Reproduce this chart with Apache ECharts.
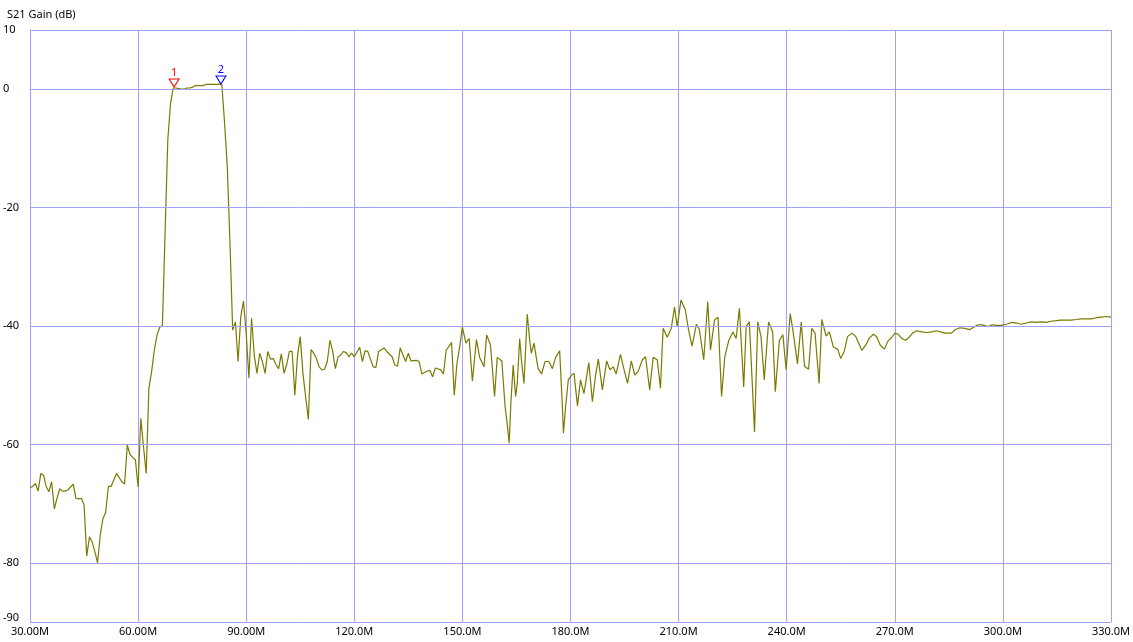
<!DOCTYPE html>
<html>
<head>
<meta charset="utf-8">
<script src="https://cdn.jsdelivr.net/npm/echarts@6/dist/echarts.min.js"></script>
<style>
html,body{margin:0;padding:0;background:#fff;overflow:hidden;}
#chart{width:1133px;height:642px;}
</style>
</head>
<body>
<div id="chart"></div>
<script>
// Frequency in MHz
const freqs = [
30.0,30.75,31.5,32.25,33.0,33.75,34.5,35.25,36.0,36.75,37.5,38.25,39.0,39.75,40.5,41.25,42.0,42.75,43.5,44.25,
45.0,45.75,46.5,47.25,48.0,48.75,49.5,50.25,51.0,51.75,52.5,53.25,54.0,54.75,55.5,56.25,57.0,57.75,58.5,59.25,
60.0,60.75,61.5,62.25,63.0,63.75,64.5,65.25,66.0,66.75,67.5,68.25,69.0,69.75,70.5,71.25,72.0,72.75,73.5,74.25,
75.0,75.75,76.5,77.25,78.0,78.75,79.5,80.25,81.0,81.75,82.5,83.25,84.0,84.75,85.5,86.25,87.0,87.75,88.5,89.25,
90.0,90.75,91.5,92.25,93.0,93.75,94.5,95.25,96.0,96.75,97.5,98.25,99.0,99.75,100.5,101.25,102.0,102.75,103.5,104.25,
105.0,105.75,106.5,107.25,108.0,108.75,109.5,110.25,111.0,111.75,112.5,113.25,114.0,114.75,115.5,116.25,117.0,117.75,118.5,119.25,
120.0,121.5,122.25,123.0,123.75,125.25,126.0,126.75,128.25,129.0,130.5,131.25,132.0,132.75,134.25,135.0,135.75,137.25,138.0,138.75,
140.25,141.0,141.75,142.5,144.0,144.75,145.5,147.0,147.75,148.5,149.25,150.0,
150.98,151.88,152.78,153.9,154.8,156.0,156.75,157.8,158.93,159.68,160.95,161.85,162.53,162.98,163.43,164.1,164.78,165.23,165.9,166.43,
167.1,168.0,168.68,169.13,169.88,171.0,171.98,172.95,174.0,174.98,175.88,177.0,177.75,178.05,178.65,179.4,180.3,180.98,181.95,182.78,
183.75,184.35,185.1,186.08,186.98,187.73,188.85,190.05,190.95,191.85,192.68,193.88,195.0,195.83,196.88,197.85,198.75,199.95,200.85,201.98,
202.95,204.08,204.98,205.43,205.73,206.85,207.98,208.88,209.63,210.68,211.88,212.78,213.75,214.95,215.78,216.98,218.1,218.85,219.98,220.95,
221.93,222.83,223.95,225.08,225.98,226.88,228.08,228.75,229.65,231.08,231.98,232.88,233.78,234.98,236.1,236.85,237.98,238.95,239.85,240.98,
241.73,243.0,244.05,244.95,246.08,246.98,247.88,249.0,249.75,250.95,251.85,252.98,254.18,255.0,255.98,256.88,258.08,259.2,
260.85,261.98,262.88,264.08,264.98,265.95,267.15,268.05,269.18,270.08,270.98,271.95,273.0,273.98,274.95,276.08,277.5,278.85,280.28,281.63,
282.6,283.95,285.75,286.8,288.08,289.43,290.85,292.2,293.18,294.23,295.95,297.0,298.2,299.63,300.98,302.4,303.75,305.18,306.53,307.95,
309.3,310.73,312.08,313.28,314.85,316.05,317.63,318.98,320.4,321.75,323.18,324.53,325.95,327.3,328.73,330.0
];
// S21 gain in dB
const gains = [
-67.3,-67.1,-66.6,-67.9,-64.9,-65.2,-67.1,-68.0,-66.3,-70.9,-69.1,-67.5,-67.9,-67.9,-67.7,-67.2,-66.7,-69.1,-69.2,-69.1,
-70.2,-78.9,-75.6,-76.5,-78.1,-80.0,-75.3,-72.5,-71.5,-67.1,-67.1,-66.0,-64.9,-65.6,-66.3,-66.7,-60.1,-61.7,-62.2,-62.6,
-67.2,-55.6,-60.4,-64.9,-50.5,-47.7,-44.1,-41.5,-40.2,-39.9,-24.0,-8.5,-2.4,0.2,0.2,0.1,0.0,0.0,0.2,0.2,
0.3,0.6,0.6,0.6,0.6,0.8,0.8,0.8,0.8,0.8,0.9,0.7,-5.7,-13.0,-26.0,-40.7,-39.3,-46.0,-38.4,-35.8,
-41.2,-48.8,-38.7,-45.0,-48.0,-44.6,-46.0,-48.0,-44.3,-45.6,-45.5,-46.5,-47.2,-44.7,-48.0,-46.5,-44.3,-44.3,-51.7,-45.0,
-41.8,-48.0,-52.0,-55.8,-44.0,-44.6,-45.5,-46.9,-47.4,-47.3,-46.0,-42.4,-44.3,-47.2,-45.2,-44.9,-44.3,-44.5,-45.2,-44.6,
-45.2,-43.6,-46.0,-44.2,-44.3,-46.9,-47.0,-44.3,-43.7,-44.3,-45.2,-46.6,-46.8,-43.7,-46.0,-44.6,-45.9,-45.8,-46.0,-48.1,
-47.6,-47.5,-48.6,-47.1,-47.4,-48.1,-44.1,-42.8,-51.7,-46.3,-43.5,-40.2,
-42.9,-42.1,-49.3,-42.3,-45.3,-46.9,-41.5,-43.2,-51.9,-45.3,-45.9,-53.6,-57.0,-59.8,-53.4,-46.6,-51.9,-49.7,-42.1,-46.0,
-49.7,-38.0,-42.4,-44.6,-42.9,-47.2,-48.1,-46.0,-46.0,-47.2,-45.3,-44.2,-53.6,-58.1,-53.6,-49.1,-48.3,-48.0,-53.5,-49.1,
-51.4,-49.1,-46.2,-52.8,-48.3,-45.6,-50.8,-45.9,-47.4,-46.9,-48.1,-44.8,-47.7,-49.7,-45.9,-48.3,-47.7,-45.7,-45.2,-50.8,
-45.3,-45.7,-50.5,-44.1,-40.4,-41.9,-40.4,-36.8,-40.1,-35.6,-37.3,-40.7,-43.4,-39.7,-40.6,-45.7,-35.9,-44.1,-39.0,-38.5,
-51.9,-45.2,-42.4,-41.0,-42.1,-37.0,-50.3,-40.1,-39.3,-57.9,-39.3,-41.8,-49.1,-39.3,-41.0,-51.1,-42.4,-41.5,-47.4,-37.9,
-40.7,-46.4,-39.3,-46.8,-47.3,-40.4,-41.2,-49.7,-38.9,-41.7,-41.0,-43.6,-43.9,-45.5,-44.3,-41.8,-41.2,-41.8,
-44.1,-43.2,-42.1,-41.4,-41.8,-43.2,-43.9,-42.6,-41.9,-41.2,-41.4,-42.1,-42.4,-41.9,-41.2,-40.8,-41.0,-41.1,-41.0,-40.8,
-41.0,-41.2,-41.2,-40.6,-40.3,-40.4,-40.6,-40.1,-39.8,-39.8,-40.1,-39.8,-39.9,-39.9,-39.7,-39.4,-39.5,-39.7,-39.5,-39.3,
-39.4,-39.3,-39.4,-39.2,-39.1,-39.0,-39.0,-39.0,-38.9,-38.8,-38.8,-38.8,-38.6,-38.5,-38.4,-38.5
];
const yTicks = [10, 0, -20, -40, -60, -80, -90];
const markerFreqs = [70.0, 83.0];
const markerGains = [0.2, 0.7];
const markerLabels = ['1', '2'];
const markerColors = ['#ff0000', '#0000ff'];

const gridColor = '#a0a0ff';
const font = 'Noto Sans';
const chart = echarts.init(document.getElementById('chart'), null, {width: 1133, height: 642});
const lineData = freqs.map((f, i) => [f, gains[i]]);

chart.setOption({
  animation: false,
  backgroundColor: '#ffffff',
  title: {
    text: 'S21 Gain (dB)',
    left: 2, top: 4,
    textStyle: {fontFamily: font, fontSize: 11, fontWeight: 'normal', color: '#000'}
  },
  grid: {left: 30, right: 20, top: 30, bottom: 20, containLabel: false},
  xAxis: {
    type: 'value', min: 30, max: 330, interval: 30,
    axisLine: {show: true, lineStyle: {color: gridColor, width: 1}},
    axisTick: {show: false},
    splitLine: {show: true, lineStyle: {color: gridColor, width: 1}},
    axisLabel: {
      margin: 4, fontFamily: font, fontSize: 11, color: '#000',
      formatter: v => (v < 100 ? v.toFixed(2) : v.toFixed(1)) + 'M'
    }
  },
  yAxis: {
    type: 'value', min: -90, max: 10, interval: 10,
    axisLine: {show: true, lineStyle: {color: gridColor, width: 1}},
    axisTick: {show: false},
    splitLine: {show: false},
    axisLabel: {
      align: 'left', margin: 27, fontFamily: font, fontSize: 11, color: '#000',
      formatter: v => {
        if (yTicks.indexOf(v) < 0) return '';
        return v === -90 ? '{low|' + v + '}' : String(v);
      },
      rich: {low: {fontFamily: font, fontSize: 11, color: '#000', padding: [0, 0, 8, 0]}}
    }
  },
  series: [
    {
      type: 'line', data: [], z: 1, silent: true,
      markLine: {
        silent: true, symbol: 'none', animation: false,
        label: {show: false},
        lineStyle: {color: gridColor, width: 1, type: 'solid'},
        data: yTicks.map(v => ({yAxis: v}))
      }
    },
    {
      type: 'line', data: lineData, z: 3,
      showSymbol: false, symbol: 'none',
      lineStyle: {color: '#7a7a00', width: 1.2},
      itemStyle: {color: '#808000'},
      markPoint: {
        silent: true, animation: false,
        data: markerFreqs.map((f, i) => ({
          coord: [f, markerGains[i]],
          symbol: 'triangle', symbolSize: [10, 8], symbolRotate: 180, symbolOffset: [0, -5],
          itemStyle: {color: 'rgba(255,255,255,0)', borderColor: markerColors[i], borderWidth: 1},
          label: {show: true, formatter: markerLabels[i], position: 'top', distance: 0,
                  color: markerColors[i], fontFamily: font, fontSize: 11}
        }))
      }
    }
  ]
});
</script>
</body>
</html>
